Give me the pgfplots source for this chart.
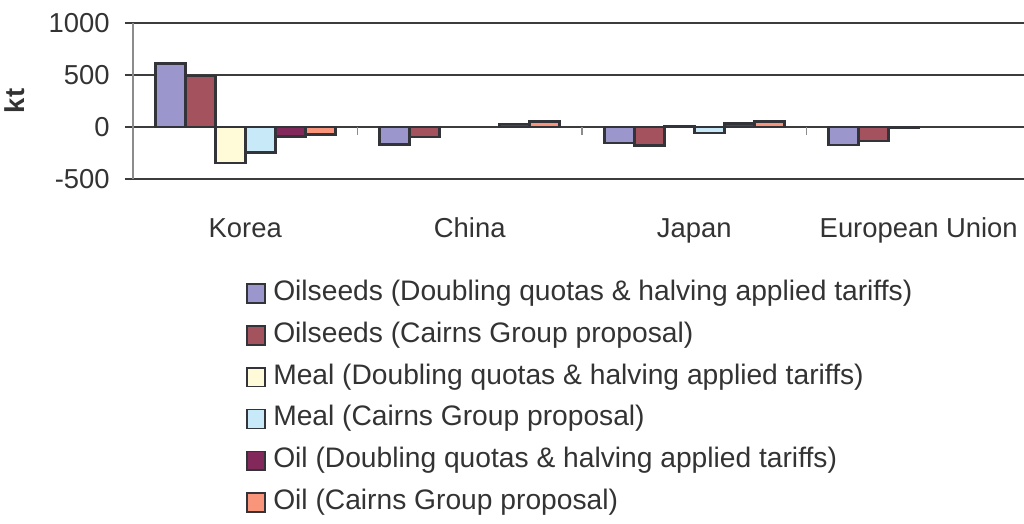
\documentclass[border=0pt]{standalone}
\usepackage{fontspec}
\setmainfont{Liberation Sans}
\usepackage{pgfplots}
\pgfplotsset{compat=1.18}

\definecolor{txt}{HTML}{333333}
\definecolor{gridc}{HTML}{3C3C3C}
\definecolor{axisgray}{HTML}{8C8C8C}
\definecolor{barline}{HTML}{33333A}
\definecolor{cOSa}{HTML}{9B96CB}
\definecolor{cOSb}{HTML}{A3525E}
\definecolor{cMEa}{HTML}{FFFBD8}
\definecolor{cMEb}{HTML}{C8E9F8}
\definecolor{cOIa}{HTML}{83285A}
\definecolor{cOIb}{HTML}{F8957A}

\newcommand{\chartfont}{\fontsize{13.7}{16}\selectfont}
\newcommand{\legendfont}{\fontsize{14.1}{16.5}\selectfont}

\pgfplotsset{
  sq legend/.style={
    legend image code/.code={
      \draw[##1, draw=barline, line width=0.85pt] (0pt,-4.7pt) rectangle (9pt,4.7pt);
    }
  }
}

\begin{document}
\begin{tikzpicture}
\begin{axis}[
  at={(0,0)}, anchor=south west,
  scale only axis, width=449pt, height=78pt,
  xmin=-0.5, xmax=3.5, ymin=-500, ymax=1000,
  ybar=0pt, bar width=15pt,
  ytick={-500,0,500,1000},
  xtick={0,1,2,3},
  xticklabels={Korea,China,Japan,European Union},
  ymajorgrids,
  grid style={line width=0.75pt, color=gridc},
  axis x line*=bottom, axis y line*=left,
  x axis line style={draw=gridc, line width=0.75pt, -},
  y axis line style={draw=axisgray, line width=0.75pt, -},
  tick align=outside, major tick length=4pt,
  ytick style={draw=gridc, line width=0.75pt},
  xtick style={draw=none},
  /pgf/number format/assume math mode=true,
  /pgf/number format/1000 sep={},
  tick label style={font=\chartfont, text=txt},
  yticklabel style={anchor=east, inner sep=0pt, xshift=-7.5pt},
  xticklabel style={anchor=base, inner sep=0pt, yshift=-25pt},
  ylabel={kt},
  ylabel style={font=\chartfont\bfseries, text=txt,
    at={(axis description cs:-0.1314,0.5)}, anchor=center},
  legend cell align=left,
  legend style={draw=none, fill=none, inner sep=0pt,
    at={(axis description cs:0.1258,-0.65)}, anchor=north west,
    row sep=8.1pt, column sep=3.6pt,
    font=\legendfont, text=txt,
    nodes={inner sep=0pt, text height=9.8pt, text depth=3pt}},
  every axis plot/.append style={draw=barline, line width=1.35pt},
]
% oilseeds, doubling quotas
\addplot[fill=cOSa, sq legend] coordinates {(0,610) (1,-167) (2,-153) (3,-172)};
\addlegendentry{Oilseeds (Doubling quotas \& halving applied tariffs)}
% oilseeds, Cairns Group
\addplot[fill=cOSb, sq legend] coordinates {(0,490) (1,-95) (2,-175) (3,-134)};
\addlegendentry{Oilseeds (Cairns Group proposal)}
% meal, doubling quotas
\addplot[fill=cMEa, sq legend] coordinates {(0,-345) (2,10) (3,-10)};
\addlegendentry{Meal (Doubling quotas \& halving applied tariffs)}
% meal, Cairns Group
\addplot[fill=cMEb, sq legend] coordinates {(0,-245) (2,-57)};
\addlegendentry{Meal (Cairns Group proposal)}
% oil, doubling quotas
\addplot[fill=cOIa, sq legend] coordinates {(0,-90) (1,30) (2,33)};
\addlegendentry{Oil (Doubling quotas \& halving applied tariffs)}
% oil, Cairns Group
\addplot[fill=cOIb, sq legend] coordinates {(0,-75) (1,50) (2,56)};
\addlegendentry{Oil (Cairns Group proposal)}
% category separators on the zero line
\foreach \s in {0.5,1.5,2.5}{
  \edef\tmp{\noexpand\draw[axisgray, line width=0.75pt] (axis cs:\s,0) -- ([yshift=-4pt]axis cs:\s,0);}
  \tmp
}
\end{axis}
\pgfresetboundingbox
\useasboundingbox (-66.5pt,-172.5pt) rectangle (445.5pt,89.5pt);
\end{tikzpicture}
\end{document}
